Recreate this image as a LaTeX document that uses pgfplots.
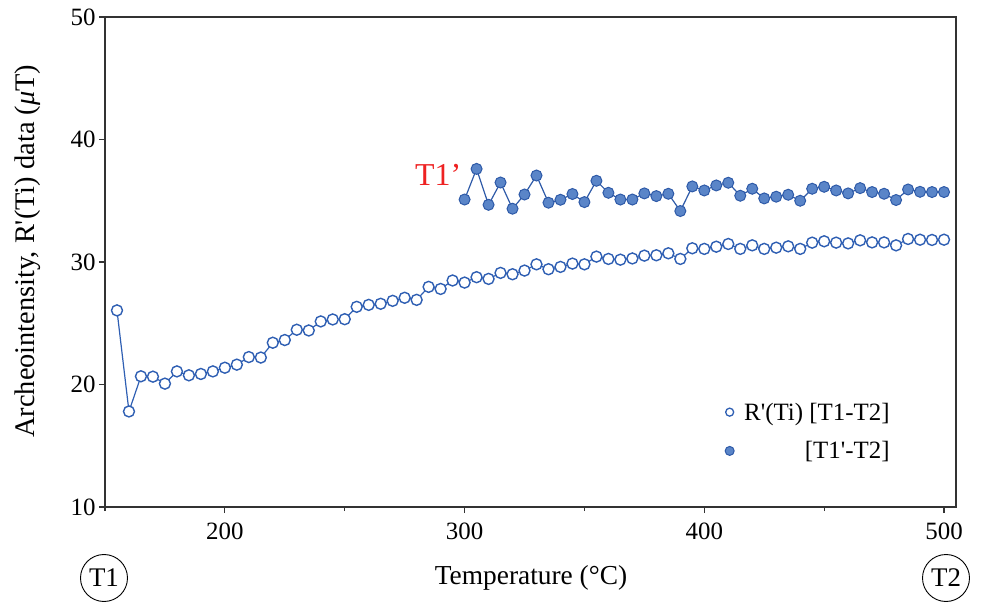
\documentclass[border=0pt]{standalone}
\usepackage{pgfplots}
\pgfplotsset{compat=1.18}
\usetikzlibrary{calc}
\usepackage{fontspec}
\setmainfont{Liberation Serif}
\definecolor{lineblue}{HTML}{2F5FB3}
\definecolor{fillblue}{HTML}{5A85C8}
\definecolor{edgeblue}{HTML}{2E5AA8}
\definecolor{axisgray}{HTML}{333333}
\definecolor{tred}{HTML}{EE2222}
\pgfplotstableread{
x y
155 26.05
160 17.8
165 20.67
170 20.64
175 20.07
180 21.07
185 20.75
190 20.86
195 21.07
200 21.37
205 21.62
210 22.24
215 22.2
220 23.41
225 23.63
230 24.47
235 24.41
240 25.15
245 25.31
250 25.33
255 26.34
260 26.5
265 26.59
270 26.83
275 27.08
280 26.91
285 27.97
290 27.8
295 28.49
300 28.32
305 28.76
310 28.62
315 29.11
320 29.0
325 29.3
330 29.81
335 29.41
340 29.6
345 29.87
350 29.81
355 30.44
360 30.25
365 30.19
370 30.29
375 30.52
380 30.55
385 30.71
390 30.25
395 31.12
400 31.07
405 31.25
410 31.47
415 31.07
420 31.36
425 31.07
430 31.17
435 31.28
440 31.07
445 31.58
450 31.69
455 31.58
460 31.52
465 31.77
470 31.6
475 31.6
480 31.36
485 31.88
490 31.82
495 31.8
500 31.82
}\hollowdata
\pgfplotstableread{
x y
300 35.1
305 37.6
310 34.67
315 36.49
320 34.35
325 35.51
330 37.06
335 34.84
340 35.08
345 35.55
350 34.89
355 36.63
360 35.65
365 35.1
370 35.1
375 35.6
380 35.38
385 35.57
390 34.16
395 36.17
400 35.84
405 36.25
410 36.47
415 35.41
420 35.98
425 35.19
430 35.33
435 35.49
440 35.0
445 35.98
450 36.14
455 35.84
460 35.6
465 36.03
470 35.71
475 35.57
480 35.06
485 35.92
490 35.73
495 35.71
500 35.71
}\filleddata
\begin{document}
\begin{tikzpicture}
\begin{axis}[
  scale only axis, width=851bp, height=490bp,
  xmin=150, xmax=505, ymin=10, ymax=50,
  xtick={200,300,400,500}, minor xtick={150,250,350,450},
  ytick={10,20,30,40,50},
  tick pos=left, tick align=outside,
  major tick length=6bp, minor tick length=4bp,
  every tick/.style={axisgray, line width=1.1bp},
  axis line style={axisgray, line width=1.2bp},
  /pgf/number format/assume math mode=true,
  tick label style={font=\fontsize{25}{29}\selectfont},
  xticklabel style={yshift=-6bp},
  xlabel={Temperature (°C)},
  ylabel={Archeointensity, R\textquotesingle(Ti) data (\textit{μ}T)},
  xlabel style={font=\fontsize{27.5}{32}\selectfont, at={(axis description cs:0.5006,-0.145)}, anchor=center},
  ylabel style={font=\fontsize{28.5}{33}\selectfont, at={(axis description cs:-0.0905,0.522)}, anchor=center},
  legend style={draw=none, fill=none, font=\fontsize{25}{29}\selectfont,
    at={(axis description cs:0.725,0.154)}, anchor=west, row sep=16bp,
    /tikz/every odd column/.append style={column sep=8bp}},
  legend cell align=right,
  clip=false,
]
\addplot[lineblue, line width=1.2bp, mark=*, mark size=5.5bp,
  mark options={draw=lineblue, fill=white, line width=1.4bp}, forget plot]
  table[x=x,y=y] {\hollowdata};
\addplot[edgeblue, line width=1.2bp, mark=*, mark size=5.5bp,
  mark options={draw=edgeblue, fill=fillblue, line width=1.0bp}, forget plot]
  table[x=x,y=y] {\filleddata};
\addlegendimage{only marks, mark=*, mark size=4bp, mark options={draw=lineblue, fill=white, line width=1.3bp}}
\addlegendentry{R\textquotesingle(Ti) [T1-T2]}
\addlegendimage{only marks, mark=*, mark size=4.5bp, mark options={draw=edgeblue, fill=fillblue, line width=1bp}}
\addlegendentry{[T1\textquotesingle-T2]}
\node[text=tred, font=\fontsize{32}{36}\selectfont] at (axis cs:289,37.1) {T1’};
\coordinate (SW) at (rel axis cs:0,0);
\end{axis}
\pgfresetboundingbox
\path[use as bounding box] ($(SW)+(-105bp,-103bp)$) rectangle ($(SW)+(878bp,507bp)$);
\node[draw=black, circle, line width=0.9bp, minimum size=47bp, inner sep=0pt, font=\fontsize{27}{31}\selectfont] at ($(SW)+(-1bp,-71bp)$) {T1};
\node[draw=black, circle, line width=0.9bp, minimum size=47bp, inner sep=0pt, font=\fontsize{27}{31}\selectfont] at ($(SW)+(841bp,-71bp)$) {T2};
\end{tikzpicture}
\end{document}
